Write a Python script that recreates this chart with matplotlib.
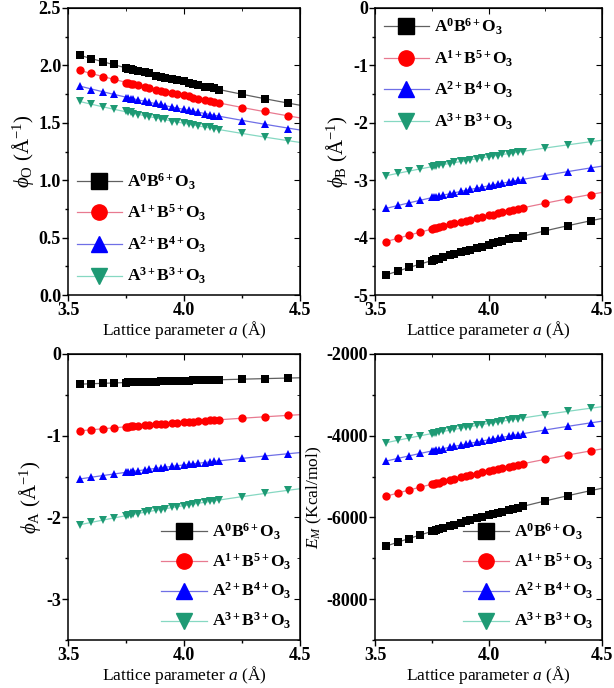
import matplotlib.pyplot as plt
import numpy as np
from matplotlib.lines import Line2D
from matplotlib.ticker import MultipleLocator

plt.rcParams["font.family"] = ["Liberation Serif", "DejaVu Serif"]
plt.rcParams["font.weight"] = "bold"
plt.rcParams["axes.unicode_minus"] = False
plt.rcParams["mathtext.fontset"] = "custom"
plt.rcParams["mathtext.rm"] = "Liberation Serif:normal"
plt.rcParams["mathtext.it"] = "Liberation Serif:italic:normal"
plt.rcParams["mathtext.bf"] = "Liberation Serif:bold"

# ---------------------------------------------------------------------------
# Data: lattice parameter a (Å) and the four compound families
# ---------------------------------------------------------------------------
lattice_a = np.array([3.55, 3.60, 3.65, 3.70, 3.75, 3.76, 3.77, 3.78, 3.80,
                      3.83, 3.85, 3.88, 3.90, 3.92, 3.95, 3.97, 4.00, 4.02,
                      4.04, 4.06, 4.09, 4.11, 4.13, 4.15, 4.25, 4.35, 4.45])

series_labels = [r"$\mathbf{A^{0}B^{6+}O_{3}}$",
                 r"$\mathbf{A^{1+}B^{5+}O_{3}}$",
                 r"$\mathbf{A^{2+}B^{4+}O_{3}}$",
                 r"$\mathbf{A^{3+}B^{3+}O_{3}}$"]

phi_O_0 = [2.09, 2.06, 2.03, 2.01, 1.98, 1.97, 1.97, 1.96, 1.95, 1.94, 1.93, 1.91, 1.90, 1.89,
           1.88, 1.87, 1.86, 1.85, 1.84, 1.83, 1.81, 1.81, 1.80, 1.79, 1.75, 1.71, 1.67]
phi_O_1 = [1.96, 1.93, 1.90, 1.88, 1.85, 1.85, 1.84, 1.84, 1.83, 1.81, 1.80, 1.79, 1.78, 1.77,
           1.76, 1.75, 1.74, 1.73, 1.72, 1.71, 1.70, 1.69, 1.68, 1.67, 1.63, 1.60, 1.56]
phi_O_2 = [1.82, 1.79, 1.77, 1.75, 1.72, 1.72, 1.71, 1.71, 1.70, 1.69, 1.68, 1.67, 1.66, 1.65,
           1.64, 1.63, 1.62, 1.61, 1.60, 1.59, 1.58, 1.57, 1.56, 1.56, 1.52, 1.49, 1.45]
phi_O_3 = [1.69, 1.66, 1.64, 1.62, 1.60, 1.59, 1.59, 1.58, 1.57, 1.56, 1.55, 1.54, 1.53, 1.53,
           1.51, 1.51, 1.50, 1.49, 1.48, 1.47, 1.46, 1.46, 1.45, 1.44, 1.41, 1.38, 1.34]

phi_B_0 = [-4.65, -4.58, -4.52, -4.46, -4.40, -4.39, -4.38, -4.37, -4.34, -4.31, -4.29, -4.25,
           -4.23, -4.21, -4.18, -4.16, -4.13, -4.10, -4.08, -4.06, -4.03, -4.01, -4.00, -3.98,
           -3.88, -3.79, -3.71]
phi_B_1 = [-4.07, -4.01, -3.96, -3.91, -3.85, -3.84, -3.83, -3.82, -3.80, -3.77, -3.75, -3.72,
           -3.71, -3.69, -3.66, -3.64, -3.61, -3.60, -3.58, -3.56, -3.53, -3.52, -3.50, -3.48,
           -3.40, -3.32, -3.25]
phi_B_2 = [-3.49, -3.44, -3.39, -3.35, -3.30, -3.30, -3.29, -3.28, -3.26, -3.24, -3.22, -3.19,
           -3.18, -3.16, -3.14, -3.12, -3.10, -3.08, -3.07, -3.05, -3.03, -3.02, -3.00, -2.99,
           -2.92, -2.85, -2.78]
phi_B_3 = [-2.92, -2.88, -2.84, -2.80, -2.77, -2.76, -2.75, -2.74, -2.73, -2.71, -2.69, -2.67,
           -2.66, -2.65, -2.63, -2.61, -2.59, -2.58, -2.57, -2.55, -2.54, -2.52, -2.51, -2.50,
           -2.44, -2.38, -2.33]

phi_A_0 = [-0.369, -0.364, -0.359, -0.354, -0.349, -0.348, -0.347, -0.347, -0.345, -0.342,
           -0.340, -0.338, -0.336, -0.334, -0.332, -0.330, -0.328, -0.326, -0.324, -0.323,
           -0.320, -0.319, -0.317, -0.316, -0.308, -0.301, -0.294]
phi_A_1 = [-0.941, -0.928, -0.915, -0.903, -0.891, -0.888, -0.886, -0.884, -0.879, -0.872,
           -0.868, -0.861, -0.856, -0.852, -0.846, -0.841, -0.835, -0.831, -0.827, -0.823,
           -0.817, -0.813, -0.809, -0.805, -0.786, -0.768, -0.751]
phi_A_2 = [-1.530, -1.508, -1.488, -1.468, -1.448, -1.444, -1.440, -1.437, -1.429, -1.418,
           -1.410, -1.399, -1.392, -1.385, -1.375, -1.368, -1.358, -1.351, -1.344, -1.337,
           -1.328, -1.321, -1.315, -1.308, -1.278, -1.248, -1.220]
phi_A_3 = [-2.090, -2.061, -2.033, -2.005, -1.979, -1.973, -1.968, -1.963, -1.953, -1.937,
           -1.927, -1.912, -1.903, -1.893, -1.878, -1.869, -1.855, -1.846, -1.837, -1.828,
           -1.814, -1.805, -1.797, -1.788, -1.746, -1.706, -1.667]

E_M_0 = [-6700, -6607, -6516, -6428, -6343, -6326, -6309, -6292, -6259, -6210, -6178, -6130,
         -6099, -6068, -6021, -5991, -5946, -5917, -5887, -5859, -5815, -5787, -5759, -5731,
         -5596, -5468, -5345]
E_M_1 = [-5480, -5404, -5330, -5258, -5188, -5174, -5160, -5147, -5120, -5079, -5053, -5014,
         -4988, -4963, -4925, -4900, -4864, -4839, -4815, -4792, -4757, -4733, -4710, -4688,
         -4577, -4472, -4372]
E_M_2 = [-4620, -4556, -4493, -4433, -4374, -4362, -4350, -4339, -4316, -4282, -4260, -4227,
         -4205, -4184, -4152, -4131, -4100, -4080, -4060, -4040, -4010, -3991, -3971, -3952,
         -3859, -3770, -3686]
E_M_3 = [-4170, -4112, -4056, -4001, -3948, -3937, -3927, -3916, -3896, -3865, -3845, -3815,
         -3796, -3777, -3748, -3729, -3701, -3683, -3664, -3646, -3620, -3602, -3584, -3567,
         -3483, -3403, -3327]

# ---------------------------------------------------------------------------
# Styles
# ---------------------------------------------------------------------------
MARKERS = ["s", "o", "^", "v"]
MARKER_COLORS = ["#000000", "#ff0000", "#0000ff", "#1e9a74"]
LINE_COLORS = ["#606060", "#e87a90", "#6f6fe6", "#86d8c2"]


def draw_panel(ax, ys, ylim, ymajor, yminor, ylabel, ylabel_size,
               legend_loc, legend_anchor, legend_spacing):
    xfit = np.linspace(3.55, 4.5, 100)
    for y, mk, mc, lc in zip(ys, MARKERS, MARKER_COLORS, LINE_COLORS):
        y = np.asarray(y, dtype=float)
        p = np.polyfit(1.0 / lattice_a, y, 1)
        ax.plot(xfit, np.polyval(p, 1.0 / xfit), color=lc, lw=0.9, zorder=2)
        ax.plot(lattice_a, y, mk, color=mc, ms=6, mew=0, zorder=3, clip_on=False)

    ax.set_xlim(3.5, 4.5)
    ax.set_ylim(*ylim)
    ax.xaxis.set_major_locator(MultipleLocator(0.5))
    ax.xaxis.set_minor_locator(MultipleLocator(0.25))
    ax.yaxis.set_major_locator(MultipleLocator(ymajor))
    ax.yaxis.set_minor_locator(MultipleLocator(yminor))
    ax.tick_params(which="major", direction="out", length=4, width=1.0,
                   labelsize=13, pad=1.0)
    ax.tick_params(which="minor", direction="out", length=2.5, width=1.0)
    for sp in ax.spines.values():
        sp.set_linewidth(1.1)

    # mirrored ticks pointing inward on top/right
    top = ax.secondary_xaxis("top")
    top.xaxis.set_major_locator(MultipleLocator(0.5))
    top.xaxis.set_minor_locator(MultipleLocator(0.25))
    top.tick_params(which="both", direction="in", labeltop=False)
    top.tick_params(which="major", length=4)
    top.tick_params(which="minor", length=2.5)
    right = ax.secondary_yaxis("right")
    right.yaxis.set_major_locator(MultipleLocator(ymajor))
    right.yaxis.set_minor_locator(MultipleLocator(yminor))
    right.tick_params(which="both", direction="in", labelright=False)
    right.tick_params(which="major", length=4)
    right.tick_params(which="minor", length=2.5)

    ax.set_xlabel(r"Lattice parameter $a$ (Å)", fontsize=12.5, fontweight="normal",
                  labelpad=0)
    ax.set_ylabel(ylabel, fontsize=ylabel_size, fontweight="normal", labelpad=2)

    handles = [Line2D([0], [0], color=lc, lw=0.9, marker=mk, mfc=mc, mec=mc, ms=11)
               for mk, mc, lc in zip(MARKERS, MARKER_COLORS, LINE_COLORS)]
    ax.legend(handles, series_labels, loc=legend_loc, bbox_to_anchor=legend_anchor,
              frameon=False, fontsize=12.5, handlelength=2.6, handletextpad=0.3,
              labelspacing=legend_spacing, borderaxespad=0.1)


fig = plt.figure(figsize=(6.14, 6.88), dpi=100)
W, H = 614, 688


def add_axes(l, t, r, b):
    return fig.add_axes([l / W, 1 - b / H, (r - l) / W, (b - t) / H])


ax_o = add_axes(68, 8, 300, 295)
ax_b = add_axes(375, 8, 602, 295)
ax_a = add_axes(68, 354, 300, 640)
ax_e = add_axes(375, 354, 602, 640)

draw_panel(ax_o, [phi_O_0, phi_O_1, phi_O_2, phi_O_3], (0.0, 2.5), 0.5, 0.25,
           r"$\phi_{\mathrm{O}}$ (Å$^{-1}$)", 15, "lower left", (0.0, 0.0), 0.65)
draw_panel(ax_b, [phi_B_0, phi_B_1, phi_B_2, phi_B_3], (-5, 0), 1, 0.5,
           r"$\phi_{\mathrm{B}}$ (Å$^{-1}$)", 15, "upper left", (0.0, 1.0), 0.65)
draw_panel(ax_a, [phi_A_0, phi_A_1, phi_A_2, phi_A_3], (-3.5, 0), 1, 0.5,
           r"$\phi_{\mathrm{A}}$ (Å$^{-1}$)", 15, "lower right", (1.0, 0.0), 0.55)
draw_panel(ax_e, [E_M_0, E_M_1, E_M_2, E_M_3], (-9000, -2000), 2000, 1000,
           r"$E_M$ (Kcal/mol)", 12.5, "lower right", (1.0, 0.0), 0.55)

fig.savefig("out.png", dpi=100)
